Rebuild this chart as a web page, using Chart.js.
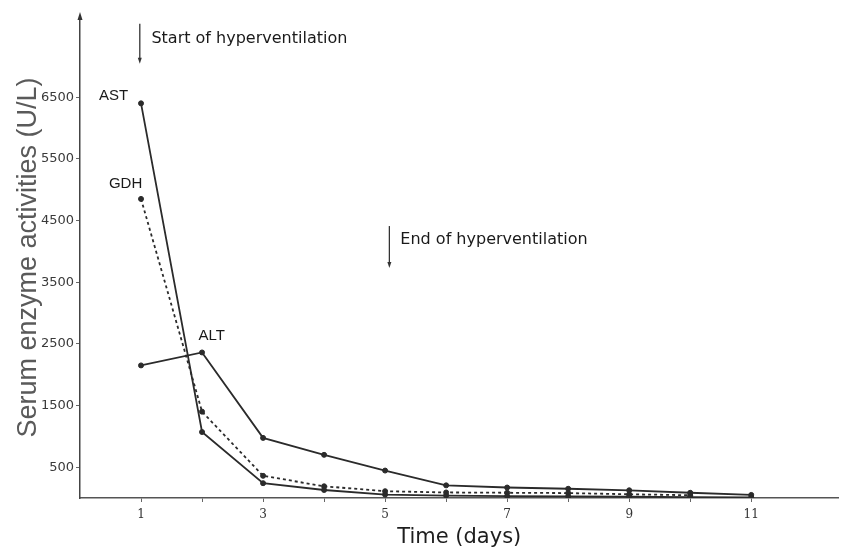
<!DOCTYPE html>
<html>
<head>
<meta charset="utf-8">
<script src="https://cdn.jsdelivr.net/npm/chart.js@4.4.1/dist/chart.umd.min.js"></script>
<style>
  html, body { margin: 0; padding: 0; background: #fff; }
  #wrap { width: 842px; height: 550px; }
</style>
</head>
<body>
<div id="wrap"><canvas id="enzymeChart" width="842" height="550"></canvas></div>
<script>
// Serum enzyme activities (U/L) by day
const days = [1, 2, 3, 4, 5, 6, 7, 8, 9, 10, 11];
const astValues = [6400, 1070, 240, 130, 55, 40, 30, 25, 20, 15, 10];
const gdhValues = [4850, 1400, 360, 190, 110, 90, 85, 80, 60, 45];
const altValues = [2150, 2360, 975, 700, 445, 205, 170, 150, 125, 85, 50];

const yTickValues = [500, 1500, 2500, 3500, 4500, 5500, 6500];
const xTickValues = [1, 2, 3, 4, 5, 6, 7, 8, 9, 10, 11];
const xTickLabels = [1, 3, 5, 7, 9, 11];

const toPoints = vals => vals.map((v, i) => ({ x: days[i], y: v }));

const lineColor = '#2b2b2b';

const seriesStyle = {
    borderColor: lineColor,
    backgroundColor: lineColor,
    borderWidth: 1.8,
    pointRadius: 2.5,
    pointBorderWidth: 1,
    pointHoverRadius: 2.5,
    tension: 0,
    fill: false,
};

// series names, arrows and the arrow on top of the y axis
const notesPlugin = {
    id: 'notes',
    afterDraw(chart) {
        const { ctx, scales: { x, y } } = chart;
        ctx.save();
        ctx.strokeStyle = '#333';
        ctx.fillStyle = '#333';

        // y axis arrow head
        const ax = x.getPixelForValue(0);
        const top = chart.chartArea.top;
        ctx.beginPath();
        ctx.moveTo(ax, top - 5);
        ctx.lineTo(ax - 2.5, top + 3);
        ctx.lineTo(ax + 2.5, top + 3);
        ctx.closePath();
        ctx.fill();

        const arrow = (day, from, to) => {
            const px = x.getPixelForValue(day);
            const y1 = y.getPixelForValue(from);
            const y2 = y.getPixelForValue(to);
            ctx.lineWidth = 1.3;
            ctx.beginPath();
            ctx.moveTo(px, y1);
            ctx.lineTo(px, y2 - 4);
            ctx.stroke();
            ctx.beginPath();
            ctx.moveTo(px, y2);
            ctx.lineTo(px - 2, y2 - 6);
            ctx.lineTo(px + 2, y2 - 6);
            ctx.closePath();
            ctx.fill();
        };
        arrow(0.98, 7690, 7040);
        arrow(5.07, 4410, 3730);

        ctx.fillStyle = '#1a1a1a';
        ctx.textBaseline = 'middle';
        ctx.font = '16px "DejaVu Sans"';
        ctx.textAlign = 'left';
        ctx.fillText('Start of hyperventilation', x.getPixelForValue(1.17), y.getPixelForValue(7440));
        ctx.fillText('End of hyperventilation', x.getPixelForValue(5.25), y.getPixelForValue(4180));

        ctx.font = '15px "Liberation Sans"';
        ctx.textAlign = 'right';
        ctx.fillText('AST', x.getPixelForValue(0.79), y.getPixelForValue(6520));
        ctx.fillText('GDH', x.getPixelForValue(1.02), y.getPixelForValue(5100));
        ctx.textAlign = 'center';
        ctx.fillText('ALT', x.getPixelForValue(2.16), y.getPixelForValue(2630));
        ctx.restore();
    }
};

const ctx = document.getElementById('enzymeChart');

new Chart(ctx, {
    type: 'line',
    data: {
        datasets: [
            { label: 'AST', data: toPoints(astValues), ...seriesStyle },
            { label: 'GDH', data: toPoints(gdhValues), ...seriesStyle, borderDash: [3, 3] },
            { label: 'ALT', data: toPoints(altValues), ...seriesStyle },
        ],
    },
    options: {
        responsive: false,
        animation: false,
        layout: { padding: { top: 17, right: 0, left: 0, bottom: 0 } },
        plugins: {
            legend: { display: false },
            tooltip: { enabled: false },
        },
        scales: {
            x: {
                type: 'linear',
                min: 0,
                max: 12.43,
                afterBuildTicks: scale => {
                    scale.ticks = xTickValues.map(v => ({ value: v }));
                },
                afterFit: scale => { scale.height = 52; },
                border: { color: '#555', width: 1.5 },
                grid: { display: true, drawOnChartArea: false, tickLength: 4, color: '#666' },
                ticks: {
                    autoSkip: false,
                    maxRotation: 0,
                    padding: 6,
                    color: '#333',
                    font: { family: 'DejaVu Serif', size: 12 },
                    callback: v => (xTickLabels.includes(v) ? String(v) : ''),
                },
                title: {
                    display: true,
                    text: 'Time (days)',
                    color: '#1e1e1e',
                    font: { family: 'DejaVu Sans', size: 21 },
                    padding: { top: 0, bottom: 0 },
                },
            },
            y: {
                min: 0,
                max: 7800,
                afterBuildTicks: scale => {
                    scale.ticks = yTickValues.map(v => ({ value: v }));
                },
                afterFit: scale => { scale.width = 80; },
                border: { color: '#444', width: 1.5 },
                grid: { display: true, drawOnChartArea: false, tickLength: 4, color: '#666' },
                ticks: {
                    padding: 2,
                    color: '#3a3a3a',
                    font: { family: 'DejaVu Sans', size: 13 },
                    callback: v => String(v),
                },
                title: {
                    display: true,
                    text: 'Serum enzyme activities (U/L)',
                    color: '#5a5a5a',
                    font: { family: 'Liberation Sans', size: 27 },
                    padding: { top: 12, bottom: 0 },
                },
            },
        },
    },
    plugins: [notesPlugin],
});
</script>
</body>
</html>
